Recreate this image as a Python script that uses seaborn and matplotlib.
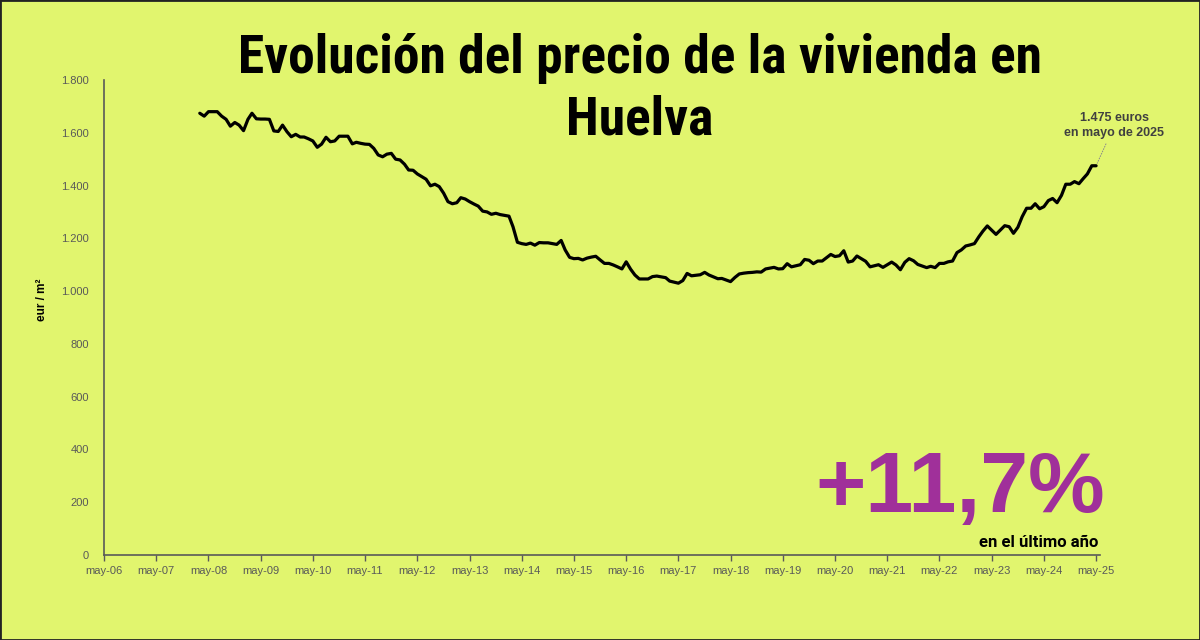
import matplotlib
matplotlib.use("Agg")
import matplotlib.pyplot as plt
import matplotlib.dates as mdates
import matplotlib.patches as mpatches
import matplotlib.ticker as mticker
from matplotlib import font_manager
import numpy as np
import pandas as pd
import seaborn as sns

# ---------------- data (eur / m2, monthly, Huelva) ----------------
start_month = "2008-03-01"
precio_2008 = [1674, 1663, 1680, 1680, 1680, 1663, 1651, 1625, 1639, 1629]
precio_2009 = [1608, 1651, 1674, 1653, 1652, 1652, 1651, 1607, 1605, 1629, 1604, 1585]
precio_2010 = [1594, 1584, 1584, 1577, 1569, 1545, 1557, 1583, 1566, 1569, 1587, 1587]
precio_2011 = [1587, 1558, 1564, 1560, 1557, 1556, 1541, 1516, 1509, 1519, 1522, 1500]
precio_2012 = [1497, 1481, 1459, 1458, 1444, 1434, 1424, 1399, 1405, 1396, 1371, 1339]
precio_2013 = [1331, 1335, 1354, 1349, 1339, 1330, 1322, 1303, 1300, 1291, 1295, 1290]
precio_2014 = [1287, 1284, 1244, 1185, 1180, 1177, 1182, 1174, 1184, 1183, 1183, 1180]
precio_2015 = [1177, 1192, 1156, 1128, 1123, 1124, 1118, 1125, 1129, 1132, 1118, 1105]
precio_2016 = [1105, 1099, 1092, 1084, 1111, 1083, 1061, 1046, 1046, 1046, 1055, 1057]
precio_2017 = [1054, 1051, 1038, 1034, 1030, 1040, 1067, 1058, 1060, 1062, 1071, 1061]
precio_2018 = [1054, 1047, 1048, 1042, 1036, 1052, 1065, 1068, 1070, 1071, 1073, 1072]
precio_2019 = [1084, 1087, 1090, 1084, 1085, 1104, 1092, 1096, 1100, 1120, 1117, 1104]
precio_2020 = [1114, 1114, 1126, 1139, 1131, 1134, 1153, 1110, 1114, 1133, 1123, 1113]
precio_2021 = [1092, 1096, 1100, 1090, 1100, 1110, 1099, 1081, 1109, 1123, 1115, 1101]
precio_2022 = [1095, 1089, 1094, 1089, 1105, 1105, 1111, 1114, 1146, 1156, 1171, 1175]
precio_2023 = [1180, 1206, 1227, 1247, 1231, 1215, 1231, 1248, 1244, 1219, 1242, 1282]
precio_2024 = [1314, 1314, 1331, 1312, 1320, 1343, 1351, 1335, 1363, 1405, 1405, 1415]
precio_2025 = [1407, 1427, 1444, 1475, 1475]

year_ticks = [f"{y}-05-01" for y in range(2006, 2026)]
tick_labels = ["may-06", "may-07", "may-08", "may-09", "may-10", "may-11", "may-12",
               "may-13", "may-14", "may-15", "may-16", "may-17", "may-18", "may-19",
               "may-20", "may-21", "may-22", "may-23", "may-24", "may-25"]
y_ticks = [0, 200, 400, 600, 800, 1000, 1200, 1400, 1600, 1800]

title_lines = ["Evolución del precio de la vivienda en", "Huelva"]
annot_text = "1.475 euros\nen mayo de 2025"
big_number = "+11,7%"
big_caption = "en el último año"
y_label = "eur / m²"

precio = (precio_2008 + precio_2009 + precio_2010 + precio_2011 + precio_2012 +
          precio_2013 + precio_2014 + precio_2015 + precio_2016 + precio_2017 +
          precio_2018 + precio_2019 + precio_2020 + precio_2021 + precio_2022 +
          precio_2023 + precio_2024 + precio_2025)
fechas = pd.date_range(start_month, periods=len(precio), freq="MS")
df = pd.DataFrame({"fecha": fechas, "precio": precio})

# ---------------- style ----------------
BG = "#E1F56E"
GRAY = "#595959"
sns.set_theme(style="white", rc={"axes.facecolor": BG, "figure.facecolor": BG})
plt.rcParams["font.family"] = ["Liberation Sans", "DejaVu Sans"]

installed = {f.name for f in font_manager.fontManager.ttflist}
narrow = [f for f in ["Roboto Condensed", "Liberation Sans Narrow", "Roboto"] if f in installed]
narrow_family = narrow[0] if narrow else "Liberation Sans"
title_size = 38.5 if narrow_family != "Liberation Sans" else 33
cap_family = "Roboto" if "Roboto" in installed else "Liberation Sans"

fig = plt.figure(figsize=(12, 6.4), dpi=100)
fig.patch.set_facecolor(BG)
ax = fig.add_axes([104 / 1200, 1 - 555 / 640, (1100 - 104) / 1200, (555 - 80) / 640])
ax.set_facecolor(BG)

sns.lineplot(data=df, x="fecha", y="precio", ax=ax, color="black", linewidth=2.3)

# axes limits / ticks
x0 = mdates.date2num(pd.Timestamp("2006-05-01"))
x1 = mdates.date2num(pd.Timestamp("2025-05-01"))
ax.set_xlim(x0, x1 + (x1 - x0) * 0.9 / 228)
ax.set_ylim(0, 1800)
ax.set_xticks([mdates.date2num(pd.Timestamp(t)) for t in year_ticks])
ax.set_xticklabels(tick_labels)
ax.set_yticks(y_ticks)
ax.yaxis.set_major_formatter(mticker.FuncFormatter(lambda v, p: f"{int(v):,}".replace(",", ".")))
ax.tick_params(axis="x", which="major", length=4, width=1, color=GRAY, direction="out",
               labelsize=8, labelcolor=GRAY, pad=4)
ax.tick_params(axis="y", which="major", length=0, labelsize=8, labelcolor=GRAY, pad=11)
ax.xaxis.set_ticks_position("bottom")
for s in ["top", "right"]:
    ax.spines[s].set_visible(False)
for s in ["left", "bottom"]:
    ax.spines[s].set_color(GRAY)
    ax.spines[s].set_linewidth(1.2)
ax.set_xlabel("")
ax.set_ylabel("")
ax.grid(False)

# y label
fig.text(42 / 1200, 1 - 300 / 640, y_label, rotation=90, ha="center", va="center",
         fontsize=8.5, fontweight="bold", color="black")

# title (two lines)
fig.text(640 / 1200, 1 - 58 / 640, title_lines[0], ha="center", va="center",
         fontsize=title_size, fontweight="bold", color="black",
         family=[narrow_family, "DejaVu Sans"])
fig.text(640 / 1200, 1 - 120 / 640, title_lines[1], ha="center", va="center",
         fontsize=title_size, fontweight="bold", color="black",
         family=[narrow_family, "DejaVu Sans"])

# annotation of last value
ax.annotate(annot_text, xy=(df["fecha"].iloc[-1], df["precio"].iloc[-1]),
            xytext=(13, 19), textcoords="offset points", ha="center", va="bottom",
            fontsize=9, fontweight="bold", color="#404040", linespacing=1.35,
            arrowprops=dict(arrowstyle="-", color="#8a8a8a", lw=0.7, linestyle=":",
                            shrinkA=1, shrinkB=2))

# big KPI
fig.text(1105 / 1200, 1 - 512 / 640, big_number, ha="right", va="baseline",
         fontsize=62, fontweight="bold", color="#A0309A")
fig.text(1098 / 1200, 1 - 547 / 640, big_caption, ha="right", va="baseline",
         fontsize=12, fontweight="bold", color="black",
         family=[cap_family, "DejaVu Sans"])

# frame around the picture
fig.patches.append(mpatches.Rectangle((0, 0), 1, 1, transform=fig.transFigure,
                                      fill=False, edgecolor="#222222", linewidth=2.0))

fig.savefig("out.png", dpi=100, facecolor=BG)
